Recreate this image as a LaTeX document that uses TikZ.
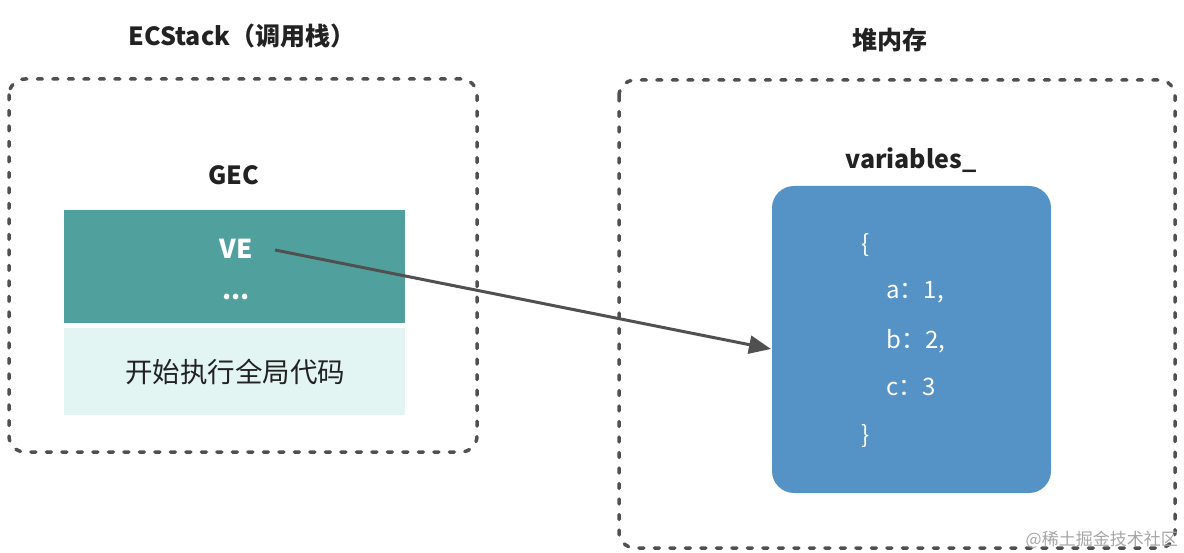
\documentclass[tikz,border=0pt]{standalone}
\usepackage{fontspec}
\setmainfont{Noto Sans CJK SC}
\usetikzlibrary{arrows.meta}
\definecolor{dashgray}{RGB}{80,80,80}
\definecolor{tealbox}{RGB}{80,160,157}
\definecolor{lighttealbox}{RGB}{226,245,243}
\definecolor{bluebox}{RGB}{85,146,198}
\definecolor{textdark}{RGB}{34,34,34}
\tikzset{
  dashframe/.style={draw=dashgray, line width=3.5pt, dash pattern=on 5pt off 10.5pt, line cap=round, rounded corners=16pt},
  title/.style={font=\fontsize{25}{29}\selectfont\bfseries, text=textdark, inner sep=0pt},
  codeline/.style={font=\fontsize{24}{28}\selectfont, text=white, anchor=west, inner sep=0pt},
}
\begin{document}
\begin{tikzpicture}[x=1pt,y=-1pt]
\useasboundingbox (0,0) rectangle (1184,553);
% frames
\draw[dashframe] (9,79) rectangle (477,452);
\draw[dashframe] (619,80) rectangle (1175,548);
% titles
\node[title] (ectitle) at (242,36) {ECStack（调用栈）};
\node[title] (heaptitle) at (890,40) {堆内存};
\node[title] (gec) at (234,175) {GEC};
\node[title] (vartitle) at (911,160) {variables\_};
% GEC boxes
\node[fill=tealbox, minimum width=341pt, minimum height=113pt, inner sep=0pt] (tealrect) at (234.5,266.5) {};
\node[fill=lighttealbox, minimum width=341pt, minimum height=87pt, inner sep=0pt] (lightrect) at (234.5,371.5) {};
\node[font=\fontsize{26}{29}\selectfont\bfseries, text=white, inner sep=0pt] (ve) at (236,249) {VE};
\node[font=\fontsize{26}{30}\selectfont\bfseries, text=white, inner sep=0pt] (dots) at (236,297) {...};
\node[font=\fontsize{27.5}{31}\selectfont, text=textdark, inner sep=0pt] (startcode) at (235,372) {开始执行全局代码};
% variables box
\node[fill=bluebox, rounded corners=22pt, minimum width=279pt, minimum height=307pt, inner sep=0pt] (varbox) at (911.5,339.5) {};
\node[codeline] (lbrace) at (861,245) {\{};
\node[codeline] (la) at (886,292) {a：1,};
\node[codeline] (lb) at (886,341) {b：2,};
\node[codeline] (lc) at (886,387) {c：3};
\node[codeline] (rbrace) at (861,436) {\}};
% arrow
\coordinate (arrstart) at (275,250);
\coordinate (arrend) at (771,349);
\draw[dashgray, line width=3pt, -{Triangle[length=22pt,width=18pt]}] (arrstart) -- (arrend);
% watermark
\node[font=\fontsize{17}{20}\selectfont, text=gray!70, anchor=east, inner sep=0pt] (wm) at (1178,540) {@稀土掘金技术社区};
\end{tikzpicture}
\end{document}
